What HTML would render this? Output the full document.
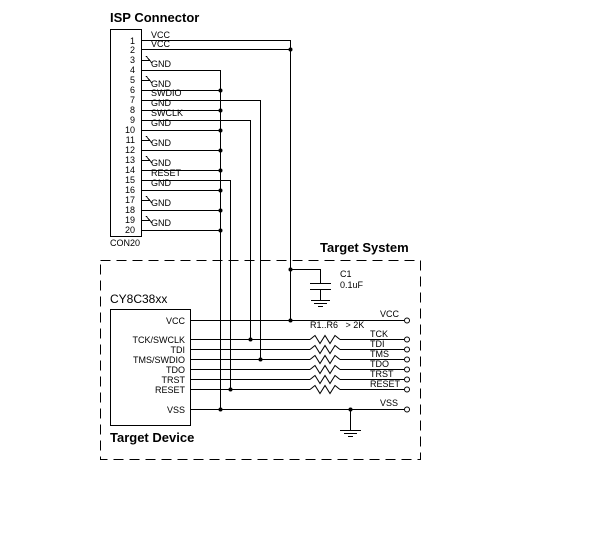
<!DOCTYPE html>
<html><head><style>
html,body{margin:0;padding:0;background:#fff;}
svg{display:block;}
text{font-family:"Liberation Sans",sans-serif;fill:#000;}
.s{font-size:9px;}
</style></head><body>
<svg width="615" height="542" viewBox="0 0 615 542" xmlns="http://www.w3.org/2000/svg">
<g stroke="#000" stroke-width="1" fill="none" shape-rendering="crispEdges">
<!-- connector box -->
<rect x="110.5" y="29.5" width="31" height="207"/>
<!-- pin lines -->
<path d="M141 40.5H290.5V320"/>
<path d="M141 49.5H290"/>
<path d="M141 70.5H220.5V409"/>
<path d="M141 90.5H220 M141 110.5H220 M141 130.5H220 M141 150.5H220 M141 170.5H220 M141 190.5H220 M141 210.5H220 M141 230.5H220"/>
<path d="M141 100.5H260.5V359"/>
<path d="M141 120.5H250.5V339"/>
<path d="M141 180.5H230.5V389"/>
<!-- NC arrows -->
<path d="M141 60.5H150 M141 80.5H150 M141 140.5H150 M141 160.5H150 M141 200.5H150 M141 220.5H150"/>
<path d="M146 56l6 7M146 76l6 7M146 136l6 7M146 156l6 7M146 196l6 7M146 216l6 7"/>
<!-- dashed box -->
<rect x="100.5" y="260.5" width="320" height="199" stroke-dasharray="10,6"/>
<!-- cap -->
<path d="M290 269.5H320.5V283 M310 283.5H331 M310 289.5H331 M320.5 289V300 M311 300.5H330 M314 303.5H327 M318 306.5H323"/>
<!-- chip -->
<rect x="110.5" y="309.5" width="80" height="116"/>
<path d="M191 320.5H404 M191 409.5H404"/>
<path d="M191 339.5H310 M340 339.5H404 M191 349.5H310 M340 349.5H404 M191 359.5H310 M340 359.5H404 M191 369.5H310 M340 369.5H404 M191 379.5H310 M340 379.5H404 M191 389.5H310 M340 389.5H404"/>
<path d="M350.5 409V430 M340 430.5H361 M344 433.5H357 M348 436.5H353"/>
</g>
<g stroke="#000" stroke-width="1" fill="none">
<path d="M310 339.5l5-4 5 8 5-8 5 8 5-8 5 4"/>
<path d="M310 349.5l5-4 5 8 5-8 5 8 5-8 5 4"/>
<path d="M310 359.5l5-4 5 8 5-8 5 8 5-8 5 4"/>
<path d="M310 369.5l5-4 5 8 5-8 5 8 5-8 5 4"/>
<path d="M310 379.5l5-4 5 8 5-8 5 8 5-8 5 4"/>
<path d="M310 389.5l5-4 5 8 5-8 5 8 5-8 5 4"/>
<circle cx="407" cy="320.5" r="2.5"/><circle cx="407" cy="339.5" r="2.5"/><circle cx="407" cy="349.5" r="2.5"/><circle cx="407" cy="359.5" r="2.5"/><circle cx="407" cy="369.5" r="2.5"/><circle cx="407" cy="379.5" r="2.5"/><circle cx="407" cy="389.5" r="2.5"/><circle cx="407" cy="409.5" r="2.5"/>
</g>
<g fill="#000">
<circle cx="290.5" cy="49.5" r="2"/>
<circle cx="220.5" cy="90.5" r="2"/><circle cx="220.5" cy="110.5" r="2"/><circle cx="220.5" cy="130.5" r="2"/><circle cx="220.5" cy="150.5" r="2"/><circle cx="220.5" cy="170.5" r="2"/><circle cx="220.5" cy="190.5" r="2"/><circle cx="220.5" cy="210.5" r="2"/><circle cx="220.5" cy="230.5" r="2"/>
<circle cx="290.5" cy="269.5" r="2"/><circle cx="290.5" cy="320.5" r="2"/>
<circle cx="250.5" cy="339.5" r="2"/><circle cx="260.5" cy="359.5" r="2"/><circle cx="230.5" cy="389.5" r="2"/><circle cx="220.5" cy="409.5" r="2"/><circle cx="350.5" cy="409.5" r="2"/>
</g>
<text x="110" y="22" font-size="13" font-weight="bold">ISP Connector</text>
<g class="s" text-anchor="end">
<text x="135" y="44">1</text><text x="135" y="53">2</text><text x="135" y="63">3</text><text x="135" y="73">4</text><text x="135" y="83">5</text><text x="135" y="93">6</text><text x="135" y="103">7</text><text x="135" y="113">8</text><text x="135" y="123">9</text><text x="135" y="133">10</text><text x="135" y="143">11</text><text x="135" y="153">12</text><text x="135" y="163">13</text><text x="135" y="173">14</text><text x="135" y="183">15</text><text x="135" y="193">16</text><text x="135" y="203">17</text><text x="135" y="213">18</text><text x="135" y="223">19</text><text x="135" y="233">20</text>
</g>
<g class="s">
<text x="151" y="38">VCC</text><text x="151" y="47">VCC</text>
<text x="151" y="67">GND</text><text x="151" y="87">GND</text>
<text x="151" y="96">SWDIO</text><text x="151" y="106">GND</text><text x="151" y="116">SWCLK</text><text x="151" y="126">GND</text>
<text x="151" y="146">GND</text><text x="151" y="166">GND</text>
<text x="151" y="176">RESET</text><text x="151" y="186">GND</text>
<text x="151" y="206">GND</text><text x="151" y="226">GND</text>
<text x="110" y="246">CON20</text>
<text x="340" y="277">C1</text><text x="340" y="288">0.1uF</text>
<text x="310" y="328">R1..R6&#160;&#160;&#160;&gt; 2K</text>
<text x="380" y="317">VCC</text><text x="380" y="406">VSS</text>
<text x="370" y="337">TCK</text><text x="370" y="347">TDI</text><text x="370" y="357">TMS</text><text x="370" y="367">TDO</text><text x="370" y="377">TRST</text><text x="370" y="387">RESET</text>
</g>
<g class="s" text-anchor="end">
<text x="185" y="324">VCC</text><text x="185" y="343">TCK/SWCLK</text><text x="185" y="353">TDI</text><text x="185" y="363">TMS/SWDIO</text><text x="185" y="373">TDO</text><text x="185" y="383">TRST</text><text x="185" y="393">RESET</text><text x="185" y="413">VSS</text>
</g>
<text x="320" y="252" font-size="13" font-weight="bold">Target System</text>
<text x="110" y="303" font-size="12">CY8C38xx</text>
<text x="110" y="442" font-size="13" font-weight="bold">Target Device</text>
</svg>
</body></html>
